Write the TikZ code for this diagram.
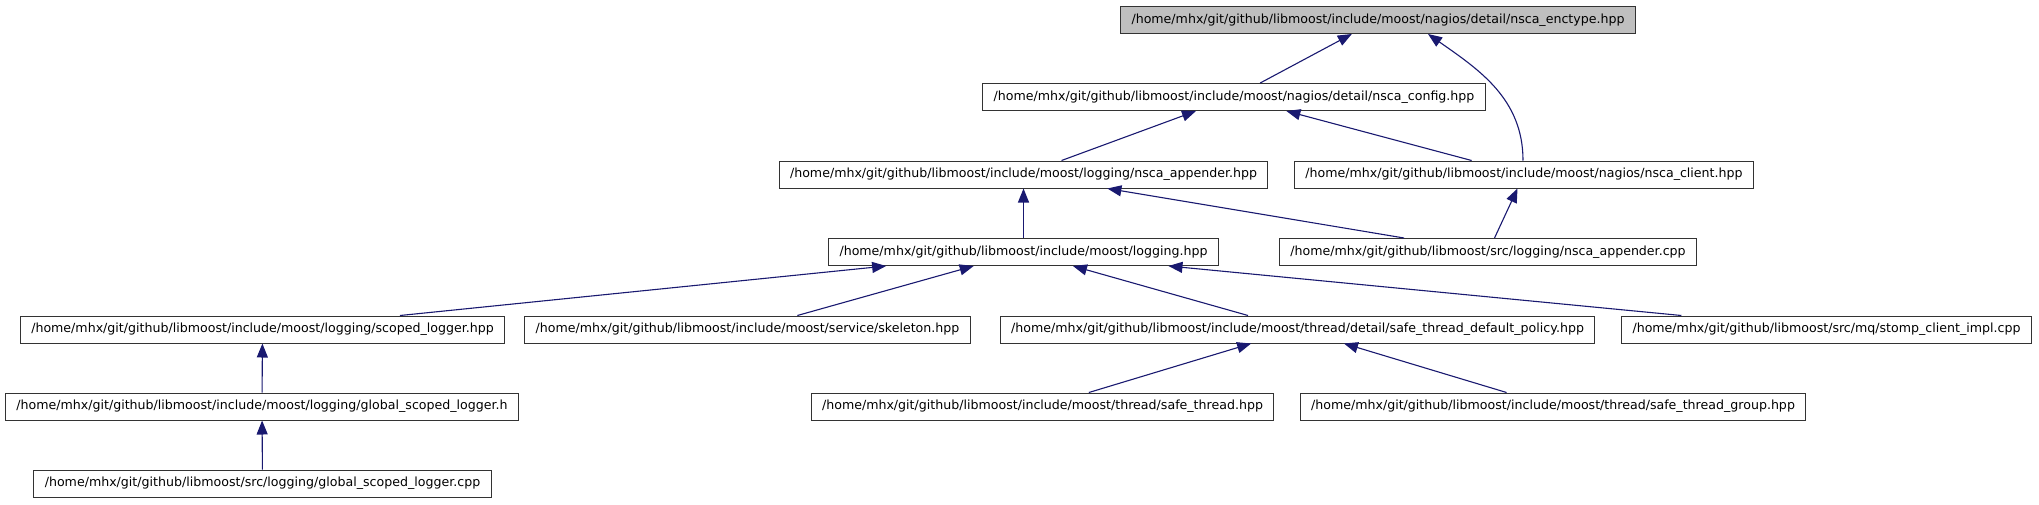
\documentclass[tikz,border=0pt]{standalone}
\usepackage{fontspec}
\setmainfont{DejaVu Sans}
\usepackage{tikz}
\usetikzlibrary{arrows.meta}
\definecolor{Edge}{HTML}{191970}
\definecolor{Root}{HTML}{BFBFBF}
\tikzset{
  file/.style={draw=black!80,fill=white,line width=1pt,minimum height=27pt,inner xsep=11pt,inner ysep=0pt,font=\fontsize{12.6}{15}\selectfont},
  rootfile/.style={file,fill=Root},
  dep/.style={-{Triangle[length=14pt,width=11pt]},draw=Edge,line width=1.1pt}
}
\begin{document}
\begin{tikzpicture}[x=1pt,y=-1pt]
  \useasboundingbox (0,0) rectangle (2039,504);
  \node[rootfile] (enctype) at (1378,20) {/home/mhx/git/github/libmoost/include/moost/nagios/detail/nsca\_enctype.hpp};
  \node[file] (config) at (1234,97) {/home/mhx/git/github/libmoost/include/moost/nagios/detail/nsca\_config.hpp};
  \node[file] (apphpp) at (1023.5,174.5) {/home/mhx/git/github/libmoost/include/moost/logging/nsca\_appender.hpp};
  \node[file] (client) at (1524,174.5) {/home/mhx/git/github/libmoost/include/moost/nagios/nsca\_client.hpp};
  \node[file] (logging) at (1023.5,252) {/home/mhx/git/github/libmoost/include/moost/logging.hpp};
  \node[file] (appcpp) at (1488,252) {/home/mhx/git/github/libmoost/src/logging/nsca\_appender.cpp};
  \node[file] (scoped) at (262.5,329.5) {/home/mhx/git/github/libmoost/include/moost/logging/scoped\_logger.hpp};
  \node[file] (skeleton) at (747.5,329.5) {/home/mhx/git/github/libmoost/include/moost/service/skeleton.hpp};
  \node[file] (policy) at (1297.5,329.5) {/home/mhx/git/github/libmoost/include/moost/thread/detail/safe\_thread\_default\_policy.hpp};
  \node[file] (stomp) at (1826.5,329.5) {/home/mhx/git/github/libmoost/src/mq/stomp\_client\_impl.cpp};
  \node[file] (globalh) at (262,406.5) {/home/mhx/git/github/libmoost/include/moost/logging/global\_scoped\_logger.h};
  \node[file] (thread) at (1042.5,406.5) {/home/mhx/git/github/libmoost/include/moost/thread/safe\_thread.hpp};
  \node[file] (group) at (1553,406.5) {/home/mhx/git/github/libmoost/include/moost/thread/safe\_thread\_group.hpp};
  \node[file] (globalcpp) at (262.5,483.5) {/home/mhx/git/github/libmoost/src/logging/global\_scoped\_logger.cpp};
  \draw[dep] (config) -- (enctype);
  \draw[dep] ([xshift=-1pt]client.north) to[out=90,in=-35] ([xshift=50pt]enctype.south);
  \draw[dep] (apphpp) -- (config);
  \draw[dep] (client) -- (config);
  \draw[dep] (logging) -- (apphpp);
  \draw[dep] (appcpp) -- (apphpp);
  \draw[dep] (appcpp) -- (client);
  \draw[dep] (scoped) -- (logging);
  \draw[dep] (skeleton) -- (logging);
  \draw[dep] (policy) -- (logging);
  \draw[dep] (stomp) -- (logging);
  \draw[dep] (globalh) -- (scoped);
  \draw[dep] (globalcpp) -- (globalh);
  \draw[dep] (thread) -- (policy);
  \draw[dep] (group) -- (policy);
\end{tikzpicture}
\end{document}
